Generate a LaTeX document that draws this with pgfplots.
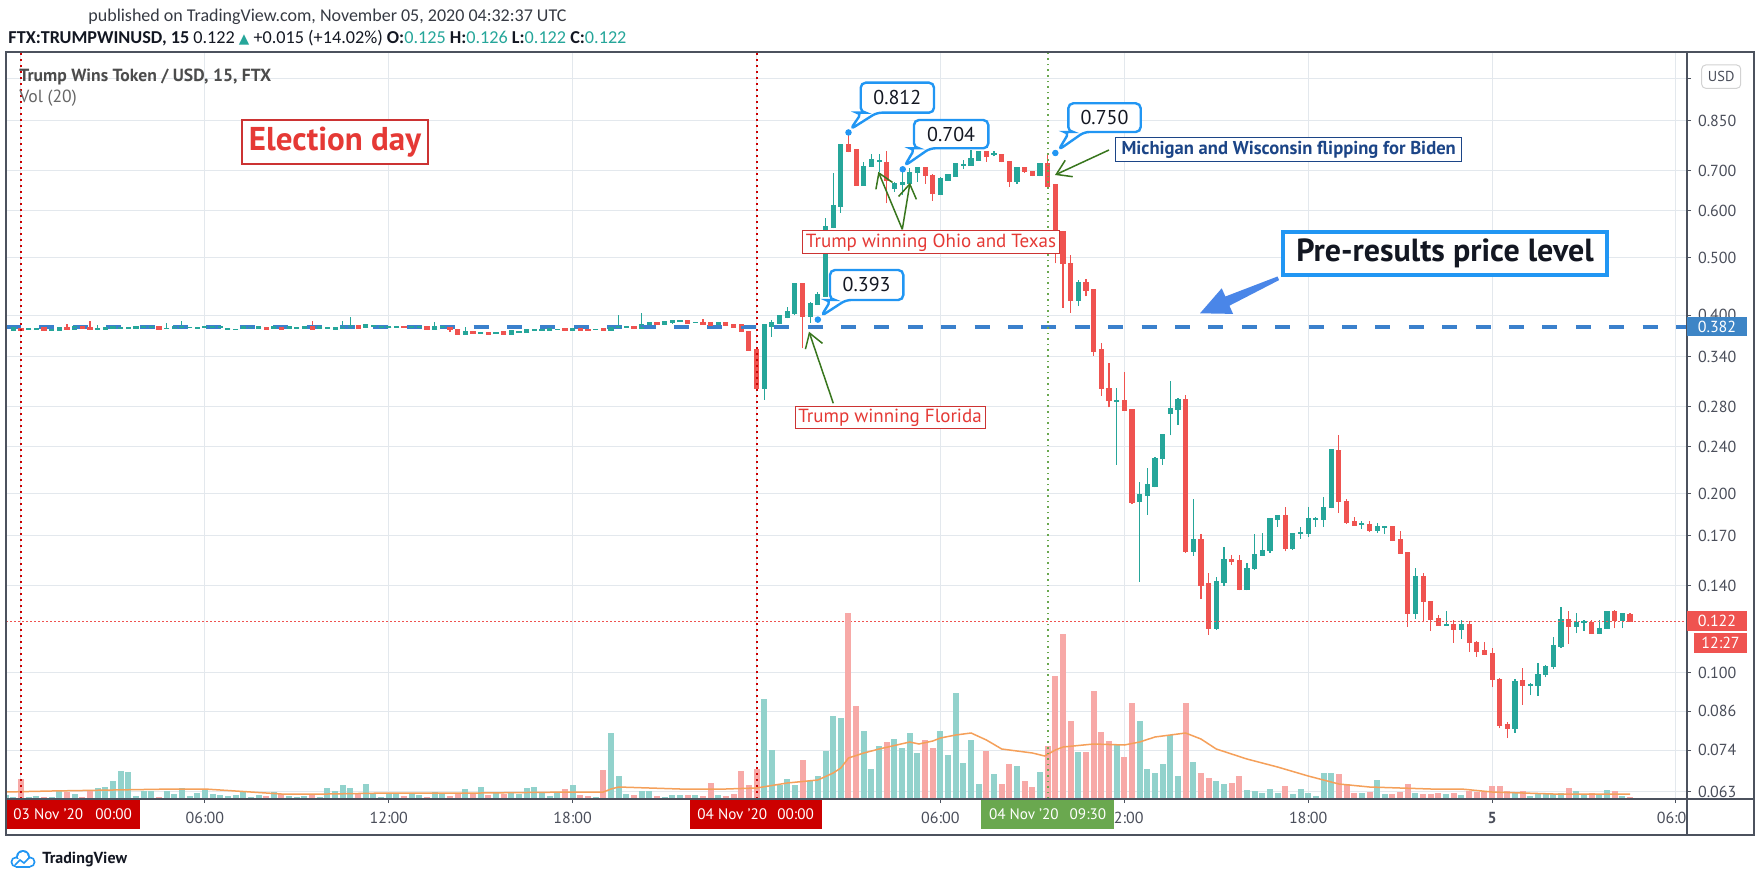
\documentclass[border=0pt]{standalone}
\usepackage{pgfplots}
\pgfplotsset{compat=1.18}
\usepackage{pgfplotstable}
\usepackage{fontspec}
\setmainfont{PT Sans}
\newfontfamily\hdrfont{Carlito}
\newfontfamily\symfont{DejaVu Sans}
\usetikzlibrary{arrows.meta}

\definecolor{tvgreen}{HTML}{26A69A}
\definecolor{tvred}{HTML}{EF5350}
\definecolor{volgreen}{HTML}{92D2CC}
\definecolor{volred}{HTML}{F7A9A7}
\definecolor{gridc}{HTML}{E3E8ED}
\definecolor{framec}{HTML}{4C525E}
\definecolor{textc}{HTML}{131722}
\definecolor{tickc}{HTML}{4A4E5A}
\definecolor{calloutblue}{HTML}{2196F3}
\definecolor{labelblue}{HTML}{3D85C6}
\definecolor{dashblue}{HTML}{3A80CC}
\definecolor{annred}{HTML}{E53935}
\definecolor{annborder}{HTML}{CC3333}
\definecolor{arrowgreen}{HTML}{38761D}
\definecolor{bidenblue}{HTML}{1C4587}
\definecolor{darkred}{HTML}{CC0000}
\definecolor{dotgreen}{HTML}{6AA84F}
\definecolor{maorange}{HTML}{F5A05A}
\definecolor{arrowblue}{HTML}{4A86E8}

% t = hours after 03 Nov 2020 00:00 UTC (15-minute candles), v = volume (relative units)
\pgfplotstableread{
t o h l c v
-0.50 .3815 .3835 .3810 .3830 4
-0.25 .3766 .3810 .3760 .3805 2
0.00 .3796 .3805 .3771 .3776 20
0.25 .3784 .3796 .3781 .3788 2
0.50 .3789 .3801 .3786 .3793 3
0.75 .3805 .3810 .3761 .3766 2
1.00 .3774 .3786 .3771 .3778 2
1.25 .3766 .3810 .3761 .3805 8
1.50 .3805 .3869 .3776 .3781 7
1.75 .3781 .3825 .3776 .3820 5
2.00 .3820 .3825 .3796 .3801 2
2.25 .3805 .3903 .3776 .3781 8
2.50 .3789 .3849 .3771 .3793 11
2.75 .3791 .3810 .3786 .3805 12
3.00 .3801 .3825 .3796 .3820 18
3.25 .3803 .3815 .3801 .3807 28
3.50 .3803 .3815 .3801 .3807 27
3.75 .3805 .3835 .3801 .3830 3
4.00 .3818 .3825 .3815 .3822 8
4.25 .3818 .3825 .3815 .3822 8
4.50 .3820 .3825 .3776 .3781 2
4.75 .3794 .3878 .3791 .3798 8
5.00 .3796 .3835 .3791 .3830 5
5.25 .3810 .3903 .3805 .3830 11
5.50 .3808 .3815 .3805 .3812 3
5.75 .3803 .3810 .3801 .3807 6
6.00 .3818 .3825 .3815 .3822 9
6.25 .3810 .3835 .3805 .3830 5
6.50 .3818 .3825 .3815 .3822 4
6.75 .3789 .3796 .3786 .3793 3
7.00 .3779 .3786 .3776 .3783 4
7.25 .3796 .3825 .3791 .3820 7
7.50 .3808 .3815 .3805 .3812 2
7.75 .3801 .3825 .3796 .3820 4
8.00 .3805 .3810 .3786 .3791 3
8.25 .3801 .3825 .3796 .3820 7
8.50 .3810 .3815 .3786 .3791 5
8.75 .3796 .3825 .3791 .3820 3
9.00 .3803 .3810 .3801 .3807 2
9.25 .3805 .3825 .3801 .3820 3
9.50 .3820 .3903 .3786 .3791 4
9.75 .3801 .3825 .3796 .3820 2
10.00 .3803 .3810 .3801 .3807 11
10.25 .3781 .3810 .3776 .3805 8
10.50 .3801 .3903 .3796 .3830 14
10.75 .3815 .3976 .3810 .3839 11
11.00 .3839 .3844 .3801 .3805 6
11.25 .3810 .3859 .3805 .3854 15
11.50 .3828 .3835 .3825 .3832 6
11.75 .3818 .3825 .3815 .3822 2
12.00 .3813 .3820 .3810 .3817 5
12.25 .3813 .3820 .3810 .3817 5
12.50 .3822 .3825 .3815 .3818 3
12.75 .3818 .3825 .3815 .3822 5
13.00 .3818 .3825 .3815 .3822 4
13.25 .3820 .3825 .3776 .3781 2
13.50 .3781 .3888 .3776 .3820 7
13.75 .3818 .3825 .3815 .3822 6
14.00 .3805 .3810 .3747 .3781 3
14.25 .3781 .3786 .3703 .3708 6
14.50 .3708 .3820 .3703 .3757 10
14.75 .3757 .3762 .3718 .3723 5
15.00 .3723 .3747 .3718 .3742 12
15.25 .3742 .3747 .3713 .3718 4
15.50 .3723 .3747 .3718 .3742 6
15.75 .3747 .3752 .3703 .3708 5
16.00 .3718 .3771 .3713 .3766 6
16.25 .3745 .3752 .3742 .3749 5
16.50 .3747 .3786 .3742 .3781 11
16.75 .3769 .3776 .3766 .3773 12
17.00 .3771 .3786 .3766 .3781 7
17.25 .3766 .3796 .3761 .3791 3
17.50 .3779 .3786 .3776 .3783 7
17.75 .3796 .3801 .3761 .3766 10
18.00 .3771 .3796 .3766 .3791 14
18.25 .3791 .3796 .3761 .3766 4
18.50 .3778 .3781 .3771 .3774 3
18.75 .3779 .3786 .3776 .3783 2
19.00 .3796 .3801 .3761 .3766 29
19.25 .3766 .3810 .3761 .3805 66
19.50 .3818 .4000 .3815 .3822 23
19.75 .3818 .3825 .3815 .3822 5
20.00 .3820 .3825 .3791 .3796 4
20.25 .3805 .4034 .3801 .3854 8
20.50 .3854 .3893 .3849 .3888 8
20.75 .3888 .3893 .3849 .3854 3
21.00 .3854 .3908 .3849 .3903 2
21.25 .3888 .3927 .3869 .3917 4
21.50 .3911 .3920 .3908 .3915 4
21.75 .3913 .3917 .3873 .3878 4
22.00 .3886 .3893 .3883 .3890 4
22.25 .3888 .3942 .3849 .3854 3
22.50 .3878 .3883 .3835 .3839 16
22.75 .3854 .3893 .3849 .3888 4
23.00 .3888 .3893 .3835 .3839 3
23.25 .3854 .3859 .3815 .3820 5
23.50 .3849 .3860 .3745 .3750 28
23.75 .3750 .3760 .3480 .3494 14
24.00 .3497 .3510 .2998 .3010 30
24.25 .3010 .3860 .2877 .3849 100
24.50 .3834 .3923 .3678 .3889 49
24.75 .3874 .4000 .3860 .3985 14
25.00 .3965 .4122 .3950 .4053 20
25.25 .4027 .4530 .4000 .4512 14
25.50 .4512 .4530 .3516 .3974 39
25.75 .3974 .4200 .3883 .4187 18
26.00 .4176 .4379 .4160 .4324 23
26.25 .4307 .5822 .4290 .5636 48
26.50 .5622 .6930 .5600 .6106 83
26.75 .6089 .7760 .5942 .7736 81
27.00 .7736 .8120 .7520 .7557 186
27.25 .7586 .7600 .6600 .6623 93
27.50 .6623 .7250 .6600 .7112 68
27.75 .7112 .7480 .7100 .7299 30
28.00 .7260 .7460 .6960 .7280 53
28.25 .7233 .7557 .6170 .6753 57
28.50 .6530 .6700 .6450 .6650 60
28.75 .6650 .6960 .6370 .6680 51
29.00 .6668 .7084 .6600 .6957 66
29.25 .6946 .7112 .6710 .7084 46
29.50 .7084 .7112 .6650 .6877 59
29.75 .6877 .6900 .6233 .6416 51
30.00 .6397 .6820 .6380 .6798 68
30.25 .6753 .6900 .6740 .6885 44
30.50 .6859 .7200 .6840 .7187 106
30.75 .7150 .7300 .7060 .7165 36
31.00 .7158 .7586 .7140 .7327 59
31.25 .7299 .7560 .7280 .7537 15
31.50 .7537 .7550 .7250 .7412 48
31.75 .7455 .7560 .7400 .7465 25
32.00 .7460 .7480 .7230 .7250 15
32.25 .7250 .7270 .6579 .6710 35
32.50 .6710 .7110 .6650 .7096 33
32.75 .7096 .7110 .6950 .6974 18
33.00 .6974 .6990 .6850 .6867 12
33.25 .6867 .7220 .6850 .7205 27
33.50 .7205 .7500 .6560 .6579 53
33.75 .6623 .6650 .4889 .5521 123
34.00 .5521 .5550 .4111 .4889 165
34.25 .4889 .5049 .4033 .4230 78
34.50 .4230 .4590 .4140 .4534 47
34.75 .4534 .4600 .4300 .4397 47
35.00 .4410 .4430 .3414 .3470 108
35.25 .3494 .3585 .2922 .3010 67
35.50 .3010 .3317 .2797 .2869 58
35.75 .2866 .3010 .2236 .2872 55
36.00 .2869 .3210 .2760 .2767 42
36.25 .2772 .2780 .1922 .1932 96
36.50 .1940 .2091 .1423 .1991 78
36.75 .1988 .2208 .1843 .2070 30
37.00 .2062 .2310 .2050 .2295 26
37.25 .2295 .2520 .2236 .2512 35
37.50 .2732 .3097 .2507 .2778 64
37.75 .2774 .2900 .2613 .2884 23
38.00 .2884 .2933 .1590 .1597 96
38.25 .1597 .1960 .1571 .1671 37
38.50 .1671 .1710 .1329 .1404 26
38.75 .1409 .1470 .1157 .1187 21
39.00 .1187 .1450 .1180 .1423 18
39.25 .1417 .1628 .1400 .1547 15
39.50 .1547 .1580 .1520 .1541 16
39.75 .1541 .1580 .1375 .1381 23
40.00 .1383 .1530 .1375 .1498 9
40.25 .1498 .1710 .1490 .1577 8
40.50 .1577 .1715 .1570 .1604 6
40.75 .1604 .1815 .1590 .1812 10
41.00 .1812 .1840 .1760 .1836 6
41.25 .1836 .1900 .1600 .1619 13
41.50 .1619 .1720 .1610 .1715 5
41.75 .1713 .1760 .1680 .1717 10
42.00 .1715 .1900 .1690 .1812 6
42.25 .1810 .1830 .1760 .1814 3
42.50 .1812 .1972 .1760 .1898 26
42.75 .1898 .2380 .1890 .2370 26
43.00 .2365 .2512 .1855 .1941 25
43.25 .1941 .1960 .1780 .1788 15
43.50 .1794 .1830 .1765 .1771 6
43.75 .1775 .1796 .1745 .1779 6
44.00 .1777 .1800 .1725 .1733 7
44.25 .1733 .1785 .1717 .1760 19
44.50 .1758 .1762 .1710 .1762 5
44.75 .1760 .1762 .1665 .1668 5
45.00 .1671 .1731 .1584 .1590 7
45.25 .1590 .1595 .1194 .1258 15
45.50 .1258 .1501 .1231 .1450 6
45.75 .1450 .1470 .1216 .1316 5
46.00 .1316 .1320 .1176 .1231 5
46.25 .1231 .1250 .1200 .1202 6
46.50 .1200 .1271 .1200 .1204 5
46.75 .1205 .1225 .1122 .1184 6
47.00 .1184 .1225 .1140 .1205 4
47.25 .1205 .1220 .1084 .1124 8
47.50 .1124 .1130 .1063 .1084 7
47.75 .1090 .1124 .1070 .1074 7
48.00 .1074 .1100 .0944 .0974 13
48.25 .0974 .0980 .0805 .0816 13
48.50 .0816 .0826 .0775 .0805 8
48.75 .0805 .0975 .0791 .0965 7
49.00 .0969 .1017 .0882 .0953 8
49.25 .0951 .0960 .0916 .0955 3
49.50 .0953 .1039 .0913 .0993 6
49.75 .0993 .1030 .0981 .1023 6
50.00 .1023 .1149 .1015 .1108 5
50.25 .1108 .1290 .1100 .1226 6
50.50 .1226 .1271 .1117 .1194 11
50.75 .1194 .1258 .1165 .1215 8
51.00 .1213 .1225 .1176 .1217 4
51.25 .1215 .1225 .1160 .1165 6
51.50 .1165 .1225 .1160 .1187 5
51.75 .1187 .1266 .1187 .1266 9
52.00 .1266 .1276 .1187 .1226 8
52.25 .1226 .1258 .1187 .1255 3
52.50 .1250 .1260 .1220 .1220 2
}\candles

% Vol (20) moving average
\pgfplotstableread{
t m
-0.5 7
1 8
3 9
5 10
6 10
7 8
7.5 7
8.5 5
10 5
12 6
15 6
18 7
19 7
19.25 10
19.5 12
20.5 11
21.5 10
23 10
24 11
25 16
26 19
26.5 26
26.75 31
27 41
27.5 46
28 50
29 57
29.3 55
29.75 58
30 61
30.5 64
31 66
31.5 59
32 50
33 46
33.4 43
33.75 49
34 52
35 55
36 54
36.5 57
37 62
37.5 64
38 66
38.5 60
39 50
40 40
41 32
42 23
43 15
44 12
45 11
46 10
47 10
48 7
49 6
50 5
52.5 5
}\matable

\newcommand{\callout}[7]{%
  \draw[calloutblue, line width=1.2pt, fill=white, rounded corners=2.5pt]
    (#1,#2) -- (#3,#2) -- (#3,#4) -- ({#1+16},#4) -- (#5,#6) -- ({#1+1},#4) -- (#1,#4) -- cycle;
  \node[font=\fontsize{10}{11}\selectfont, text=textc] at ({(#1+#3)/2},{(#2+#4)/2}) {#7};%
}

\begin{document}
\begin{tikzpicture}
\path[use as bounding box, fill=white] (0,0) rectangle (881pt,-441pt);

% ---------------- price axis ----------------
\begin{axis}[
  at={(3pt,-26pt)}, anchor=north west,
  scale only axis, width=840.5pt, height=373.5pt,
  xmin=-0.489, xmax=54.36,
  ymode=log, ymin=0.06121, ymax=1.1094,
  axis line style={draw=none},
  grid=major, major grid style={draw=gridc, line width=0.5pt},
  xtick={0,6,12,18,24,30,36,42,48,54},
  xticklabels={,06:00,12:00,18:00,,06:00,12:00,18:00,\textbf{5},06:00},
  ytick={0.063,0.074,0.086,0.1,0.14,0.17,0.2,0.24,0.28,0.34,0.4,0.5,0.6,0.7,0.85,1.0},
  yticklabels={0.063,0.074,0.086,0.100,0.140,0.170,0.200,0.240,0.280,0.340,0.400,0.500,0.600,0.700,0.850,},
  xtick pos=bottom, ytick pos=right,
  tick align=outside, major tick length=2pt,
  tick style={draw=framec, line width=0.5pt},
  ticklabel style={font=\fontsize{8}{9}\selectfont, text=tickc},
  xticklabel style={yshift=-1pt},
  clip=true,
]
% wicks
\addplot[draw=none, mark=none, error bars/.cd, y dir=plus, y explicit, error mark=none,
  error bar style={draw=tvgreen, line width=0.6pt}]
  table[x=t, y expr={\thisrow{c}<\thisrow{o} ? nan : \thisrow{l}}, y error plus expr={\thisrow{h}-\thisrow{l}}] {\candles};
\addplot[draw=none, mark=none, error bars/.cd, y dir=plus, y explicit, error mark=none,
  error bar style={draw=tvred, line width=0.6pt}]
  table[x=t, y expr={\thisrow{c}<\thisrow{o} ? \thisrow{l} : nan}, y error plus expr={\thisrow{h}-\thisrow{l}}] {\candles};
% bodies
\addplot[draw=none, mark=none, error bars/.cd, y dir=plus, y explicit, error mark=none,
  error bar style={draw=tvgreen, line width=2.6pt}]
  table[x=t, y expr={\thisrow{c}<\thisrow{o} ? nan : \thisrow{o}}, y error plus expr={\thisrow{c}-\thisrow{o}}] {\candles};
\addplot[draw=none, mark=none, error bars/.cd, y dir=plus, y explicit, error mark=none,
  error bar style={draw=tvred, line width=2.6pt}]
  table[x=t, y expr={\thisrow{c}<\thisrow{o} ? \thisrow{c} : nan}, y error plus expr={\thisrow{o}-\thisrow{c}}] {\candles};
% body edges (keeps dojis visible)
\addplot[only marks, mark=-, mark size=1.3pt, mark options={draw=tvgreen, line width=0.7pt}]
  table[x=t, y expr={\thisrow{c}<\thisrow{o} ? nan : \thisrow{c}}] {\candles};
\addplot[only marks, mark=-, mark size=1.3pt, mark options={draw=tvgreen, line width=0.7pt}]
  table[x=t, y expr={\thisrow{c}<\thisrow{o} ? nan : \thisrow{o}}] {\candles};
\addplot[only marks, mark=-, mark size=1.3pt, mark options={draw=tvred, line width=0.7pt}]
  table[x=t, y expr={\thisrow{c}<\thisrow{o} ? \thisrow{c} : nan}] {\candles};
\addplot[only marks, mark=-, mark size=1.3pt, mark options={draw=tvred, line width=0.7pt}]
  table[x=t, y expr={\thisrow{c}<\thisrow{o} ? \thisrow{o} : nan}] {\candles};
% pre-results level and last price line
\addplot[dashblue, line width=1.6pt, dash pattern=on 7.5pt off 9.2pt, mark=none] coordinates {(-0.489,0.382) (54.36,0.382)};
\addplot[tvred, line width=0.5pt, dash pattern=on 0.8pt off 1.2pt, mark=none] coordinates {(-0.489,0.122) (54.36,0.122)};
% callout points
\addplot[only marks, mark=*, mark size=1.4pt, calloutblue] coordinates {(27,0.812) (28.77,0.704) (26,0.393) (33.75,0.75)};
\end{axis}

% ---------------- volume axis ----------------
\begin{axis}[
  at={(3pt,-26pt)}, anchor=north west,
  scale only axis, width=840.5pt, height=373.5pt,
  xmin=-0.489, xmax=54.36, ymin=0, ymax=747,
  hide axis, clip=true,
]
\addplot[ycomb, draw=volgreen, line width=3pt, mark=none]
  table[x=t, y expr={\thisrow{c}<\thisrow{o} ? nan : \thisrow{v}}] {\candles};
\addplot[ycomb, draw=volred, line width=3pt, mark=none]
  table[x=t, y expr={\thisrow{c}<\thisrow{o} ? \thisrow{v} : nan}] {\candles};
\addplot[maorange, line width=0.75pt, mark=none] table[x=t, y=m] {\matable};
% event lines
\addplot[darkred, line width=1pt, dash pattern=on 1pt off 2pt, mark=none] coordinates {(0,0) (0,747)};
\addplot[darkred, line width=1pt, dash pattern=on 1pt off 2pt, mark=none] coordinates {(24,0) (24,747)};
\addplot[dotgreen, line width=0.8pt, dash pattern=on 0.8pt off 2pt, mark=none] coordinates {(33.5,0) (33.5,747)};
\end{axis}

% ---------------- annotations (pixel units) ----------------
\begin{scope}[x=0.5pt, y=-0.5pt]
% frame
\fill[white] (1688,800) rectangle (1753,834);
\draw[framec, line width=0.7pt] (6,52) rectangle (1754,835);
\draw[framec, line width=0.7pt] (1687,52) -- (1687,835);
\draw[framec, line width=0.7pt] (6,799) -- (1754,799);

% header
\node[anchor=west, inner sep=0, font=\hdrfont\fontsize{9}{10}\selectfont, text=textc!85] at (88,17)
  {published on TradingView.com, November 05, 2020 04:32:37 UTC};
\node[anchor=west, inner sep=0, font=\hdrfont\fontsize{9.1}{10}\selectfont, text=textc] at (8,38)
  {\textbf{FTX:TRUMPWINUSD, 15}\ 0.122 {\color{tvgreen}\symfont\fontsize{6.8}{7}\selectfont ▲} +0.015 (+14.02\%) \textbf{O:}{\color{tvgreen}0.125} \textbf{H:}{\color{tvgreen}0.126} \textbf{L:}{\color{tvgreen}0.122} \textbf{C:}{\color{tvgreen}0.122}};
\node[anchor=west, inner sep=0, font=\bfseries\fontsize{8.8}{10}\selectfont, text=black!70] at (19,77) {Trump Wins Token / USD, 15, FTX};
\node[anchor=west, inner sep=0, font=\fontsize{8.8}{10}\selectfont, text=black!60] at (19,98) {Vol (20)};

% text boxes
\node[draw=annborder, line width=1.3pt, fill=white, text=annred, font=\bfseries\fontsize{16.5}{18}\selectfont,
  minimum width=93pt, minimum height=22pt, inner sep=0] at (335,142) {Election day};
\node[draw=annborder, line width=0.5pt, fill=white, text=annred, font=\fontsize{9.5}{10}\selectfont,
  minimum width=128.3pt, minimum height=11.6pt, inner sep=0] at (931,242.3) {Trump winning Ohio and Texas};
\node[draw=annborder, line width=0.5pt, fill=white, text=annred, font=\fontsize{9.5}{10}\selectfont,
  minimum width=95pt, minimum height=10.8pt, inner sep=0] at (890,417.5) {Trump winning Florida};
\node[draw=bidenblue, line width=0.5pt, fill=white, text=bidenblue, font=\bfseries\fontsize{9.3}{10}\selectfont,
  minimum width=173pt, minimum height=12pt, inner sep=0] at (1288.7,149.7) {Michigan and Wisconsin flipping for Biden};
\node[draw=calloutblue, line width=1.8pt, fill=white, text=textc, font=\bfseries\fontsize{16}{18}\selectfont,
  minimum width=162pt, minimum height=21.5pt, inner sep=0] at (1445,253.5) {Pre-results price level};

% callouts
\callout{860.7}{82.7}{934}{112.7}{850.5}{129.3}{0.812}
\callout{914}{120}{988.3}{148.3}{904.5}{166}{0.704}
\callout{830}{270}{903.3}{300}{821.3}{316}{0.393}
\callout{1068.3}{103.3}{1140.7}{132}{1058.5}{150}{0.750}

% green arrows
\begin{scope}[arrowgreen, line width=0.75pt, -{Straight Barb[length=7pt,width=9pt]}]
\draw (902.3,229.3) -- (878.3,171.7);
\draw (902.3,229.3) -- (910,182.7);
\draw (833.3,403.3) -- (809,331.7);
\draw (1109,150) -- (1055,175);
\end{scope}

% blue wedge arrow
\fill[arrowblue] (1200,313.3) -- (1221.7,288.3) -- (1225.4,296.5) -- (1277.5,276.5) -- (1279.1,280.1)
  -- (1229.4,305.7) -- (1233.1,313.9) -- cycle;

% price scale labels
\draw[gray!35, line width=0.5pt, fill=white, rounded corners=2pt] (1701.7,65) rectangle (1740.7,88.3);
\node[font=\fontsize{7.2}{8}\selectfont, text=tickc] at (1721.2,76.7) {USD};
\fill[labelblue] (1687,317) rectangle (1747,336.5);
\node[font=\fontsize{8}{9}\selectfont, text=white] at (1717,326.8) {0.382};
\fill[tvred] (1687,611) rectangle (1747,631);
\node[font=\fontsize{8}{9}\selectfont, text=white] at (1717,621) {0.122};
\fill[tvred] (1694,633) rectangle (1747,653);
\node[font=\fontsize{8}{9}\selectfont, text=white] at (1720.5,643) {12:27};

% time scale labels
\fill[darkred] (7,800) rectangle (140,828.5);
\node[anchor=west, font=\fontsize{7.6}{9}\selectfont, text=white, inner sep=0] at (13,814) {03 Nov \char"27 20};
\node[anchor=west, font=\fontsize{7.6}{9}\selectfont, text=white, inner sep=0] at (95,814) {00:00};
\fill[darkred] (690,800) rectangle (822,828.5);
\node[anchor=west, font=\fontsize{7.6}{9}\selectfont, text=white, inner sep=0] at (697,814) {04 Nov \char"27 20};
\node[anchor=west, font=\fontsize{7.6}{9}\selectfont, text=white, inner sep=0] at (777,814) {00:00};
\fill[dotgreen] (980.6,800) rectangle (1114.2,828.5);
\node[anchor=west, font=\fontsize{7.6}{9}\selectfont, text=white, inner sep=0] at (988.6,814) {04 Nov \char"27 20};
\node[anchor=west, font=\fontsize{7.6}{9}\selectfont, text=white, inner sep=0] at (1069.3,814) {09:30};

% TradingView logo (cloud outline)
\fill[calloutblue] (16,862) circle (5.5) (23,857) circle (7) (30,862) circle (5.5);
\fill[calloutblue] (16,860) rectangle (30,867.5);
\fill[white] (16,862) circle (3.6) (23,857) circle (5.1) (30,862) circle (3.6);
\fill[white] (16,860) rectangle (30,865.6);
\draw[calloutblue, line width=0.8pt] (15,865) -- (20,860) -- (24,863) -- (30,857);
\node[anchor=west, inner sep=0, font=\bfseries\fontsize{8}{9}\selectfont, text=textc] at (42,860) {TradingView};
\end{scope}
\end{tikzpicture}
\end{document}
